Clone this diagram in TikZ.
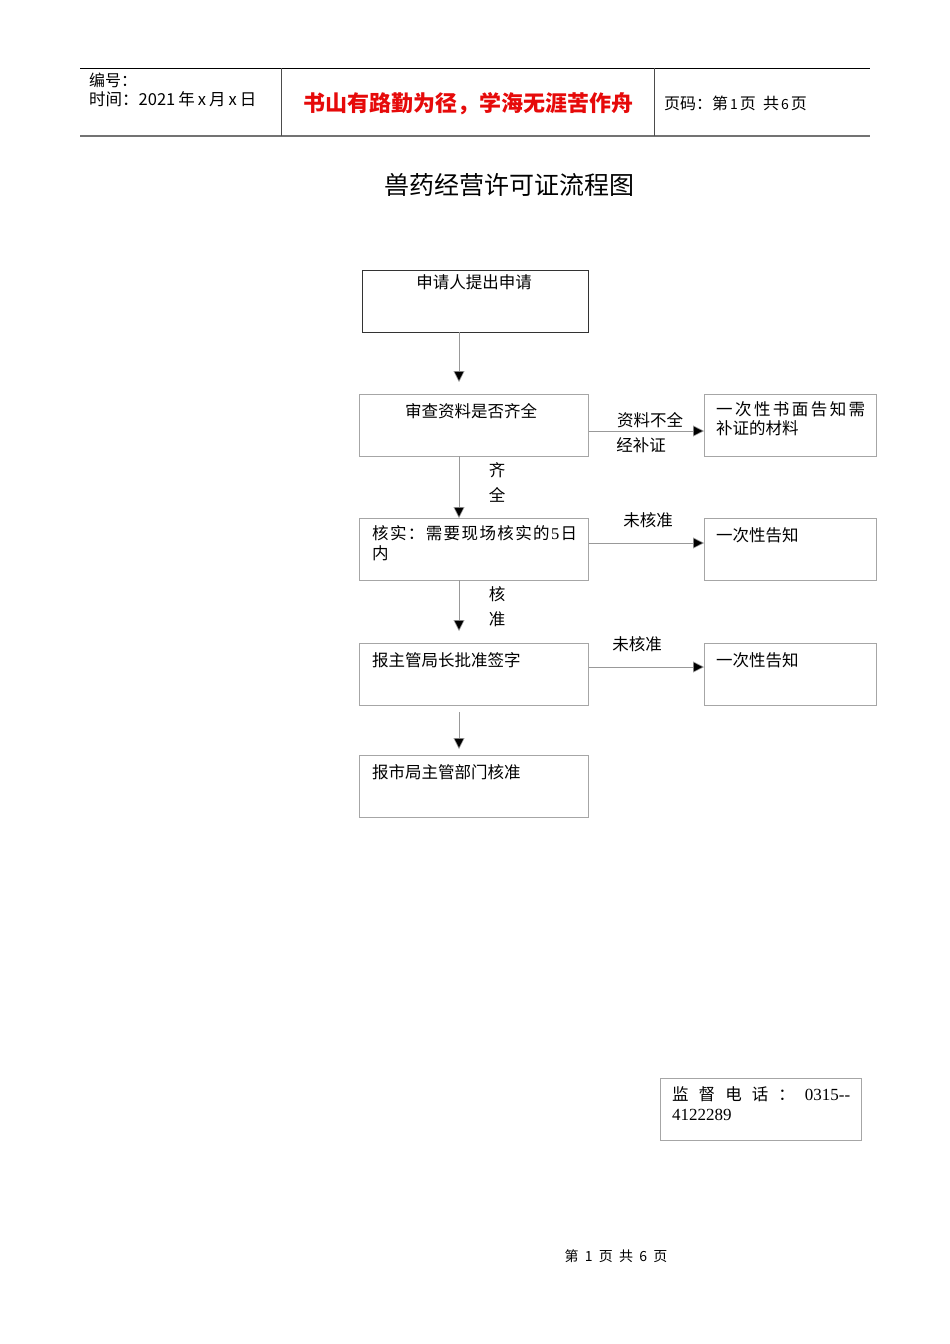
\documentclass[tikz,border=0pt]{standalone}
\usepackage{fontspec}
\setmainfont{Noto Sans CJK SC}
\newfontfamily\serifnum{Liberation Serif}
\usetikzlibrary{arrows.meta}
\tikzset{
  box/.style={draw=black!35, line width=0.8pt, minimum width=229pt, minimum height=62pt, inner sep=0pt},
  rbox/.style={draw=black!35, line width=0.8pt, minimum width=172pt, minimum height=62pt, inner sep=0pt},
  txt/.style={font=\fontsize{16.5}{20}\selectfont, inner sep=0pt, anchor=north west, align=left},
  lbl/.style={font=\fontsize{16.5}{20}\selectfont, inner sep=0pt},
  conn/.style={draw=black!40, line width=0.6pt, -{Triangle[length=11pt,width=11pt,fill=black]}},
}
\begin{document}
\begin{tikzpicture}[x=1pt,y=-1pt]
\useasboundingbox (0,0) rectangle (950,1344);
% header
\draw[line width=0.8pt] (80,68) -- (870,68);
\draw[line width=1.4pt, black!55] (80,136) -- (870,136);
\draw[line width=0.8pt, black!70] (281,68) -- (281,136);
\draw[line width=0.8pt, black!70] (654,68) -- (654,136);
\node[lbl, anchor=west, font=\fontsize{16}{19}\selectfont] (hid) at (89,80) {编号：};
\node[lbl, anchor=west, font=\fontsize{16.5}{19}\selectfont] (htime) at (89,99) {时间：2021\hspace{3pt}年\hspace{3pt}x\hspace{3pt}月\hspace{3pt}x\hspace{3pt}日};
\node[lbl, font=\fontsize{22}{26}\selectfont\bfseries, text={rgb,255:red,230;green,10;blue,10}] (hmotto) at (468,104) {书山有路勤为径，学海无涯苦作舟};
\node[lbl, anchor=west, font=\fontsize{16}{19}\selectfont] (hpage) at (664,103) {页码：第\hspace{2pt}{\fontsize{14}{16}\selectfont 1}\hspace{2pt}页\ \ 共\hspace{2pt}{\fontsize{14}{16}\selectfont 6}\hspace{2pt}页};
% title
\node[lbl, font=\fontsize{25}{28}\selectfont] (title) at (509,185) {兽药经营许可证流程图};
% boxes
\node[box, draw=black!80, minimum width=226pt, anchor=north west] (b1) at (362,270) {};
\node[lbl, anchor=center] (t1) at (474,282) {申请人提出申请};
\node[box, anchor=north west] (b2) at (359,394) {};
\node[lbl, anchor=center] (t2) at (471,411) {审查资料是否齐全};
\node[rbox, anchor=north west] (r2) at (704,394) {};
\node[txt, text width=149pt] (tr2) at (716,401) {一\hfill 次\hfill 性\hfill 书\hfill 面\hfill 告\hfill 知\hfill 需\\[-1pt]补证的材料};
\node[box, anchor=north west] (b3) at (359,518) {};
\node[txt, text width=205pt] (t3) at (372,525) {核\hfill 实\hfill ：\hfill 需\hfill 要\hfill 现\hfill 场\hfill 核\hfill 实\hfill 的\hfill {\serifnum 5}\hfill 日\\内};
\node[rbox, anchor=north west] (r3) at (704,518) {};
\node[lbl, anchor=west] (tr3) at (716,535) {一次性告知};
\node[box, anchor=north west] (b4) at (359,643) {};
\node[lbl, anchor=west] (t4) at (372,660) {报主管局长批准签字};
\node[rbox, anchor=north west] (r4) at (704,643) {};
\node[lbl, anchor=west] (tr4) at (716,660) {一次性告知};
\node[box, anchor=north west] (b5) at (359,755) {};
\node[lbl, anchor=west] (t5) at (372,772) {报市局主管部门核准};
% connectors
\coordinate (a1s) at (459,332);
\coordinate (a1e) at (459,382);
\draw[conn] (a1s) -- (a1e);
\coordinate (a2s) at (459,456);
\coordinate (a2e) at (459,518);
\draw[conn] (a2s) -- (a2e);
\coordinate (a3s) at (459,580);
\coordinate (a3e) at (459,631);
\draw[conn] (a3s) -- (a3e);
\coordinate (a4s) at (459,712);
\coordinate (a4e) at (459,749);
\draw[conn] (a4s) -- (a4e);
\draw[conn] (b2.east |- 0,431) -- (r2.west |- 0,431);
\draw[conn] (b3.east |- 0,543) -- (r3.west |- 0,543);
\draw[conn] (b4.east |- 0,667) -- (r4.west |- 0,667);
% labels
\node[lbl] (l1) at (650,420) {资料不全};
\node[lbl] (l2) at (641,445) {经补证};
\node[lbl] (l3) at (497,470) {齐};
\node[lbl] (l4) at (497,495) {全};
\node[lbl] (l5) at (648,520) {未核准};
\node[lbl] (l6) at (497,594) {核};
\node[lbl] (l7) at (497,619) {准};
\node[lbl] (l8) at (637,644) {未核准};
% phone box
\node[draw=black!35, line width=0.8pt, minimum width=201pt, minimum height=62pt, anchor=north west, inner sep=0pt] (phone) at (660,1078) {};
\node[txt, text width=178pt, font=\fontsize{16.5}{20}\selectfont] (tphone) at (672,1086) {监\hfill 督\hfill 电\hfill 话\hfill ：\hfill {\serifnum\fontsize{17}{20}\selectfont 0315--}\\{\serifnum\fontsize{17}{20}\selectfont 4122289}};
% footer
\node[lbl, font=\fontsize{14}{16}\selectfont] (footer) at (616,1256) {第\ \ 1\ \ 页\ \ 共\ \ 6\ \ 页};
\end{tikzpicture}
\end{document}
